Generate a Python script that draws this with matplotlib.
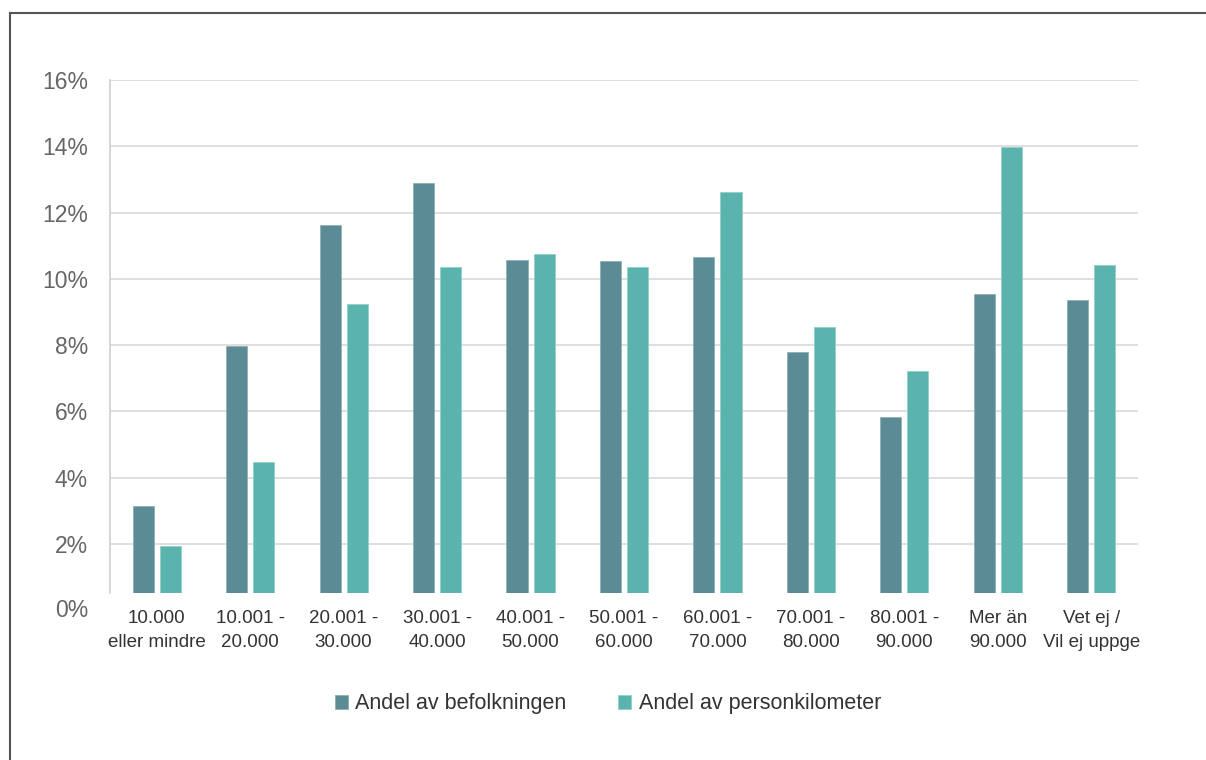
import matplotlib.pyplot as plt
import numpy as np
from matplotlib.lines import Line2D

plt.rcParams['font.family'] = ['Liberation Sans Narrow', 'Liberation Sans', 'DejaVu Sans']

categories = ['10.000\neller mindre', '10.001 -\n20.000', '20.001 -\n30.000', '30.001 -\n40.000',
              '40.001 -\n50.000', '50.001 -\n60.000', '60.001 -\n70.000', '70.001 -\n80.000',
              '80.001 -\n90.000', 'Mer än\n90.000', 'Vet ej /\nVil ej uppge']
befolkning = [3.15, 7.97, 11.62, 12.90, 10.57, 10.54, 10.66, 7.79, 5.82, 9.54, 9.35]
personkm = [1.95, 4.48, 9.25, 10.35, 10.75, 10.36, 12.62, 8.55, 7.21, 13.99, 10.42]
yticks = [0, 2, 4, 6, 8, 10, 12, 14, 16]

dark = '#5b8c96'
light = '#5bb3ad'

fig = plt.figure(figsize=(12.06, 7.6), dpi=100)
ax = fig.add_axes([110 / 1206, 1 - 593 / 760, (1138 - 110) / 1206, (593 - 80) / 760])

x = np.arange(len(categories))
w = 0.225
ax.bar(x - 0.145, befolkning, w, color=dark, edgecolor='#8fb0b7', linewidth=0.6,
       label='Andel av befolkningen', zorder=3)
ax.bar(x + 0.145, personkm, w, color=light, edgecolor='#92cfca', linewidth=0.6,
       label='Andel av personkilometer', zorder=3)

ax.set_xlim(-0.5, len(categories) - 0.5)
ax.set_ylim(0.52, 16)
ax.set_yticks(yticks[1:])
ax.set_yticklabels([f'{t}%' for t in yticks[1:]])
ax.text(-0.0215, 0, '0%', transform=ax.get_yaxis_transform(), ha='right', va='center',
        fontsize=16.5, color='#666666', clip_on=False)
ax.tick_params(axis='y', length=0, pad=16, labelsize=16.5, labelcolor='#666666')
ax.set_xticks(x)
ax.set_xticklabels(categories, fontsize=13.5, color='#333333', linespacing=1.55)
ax.tick_params(axis='x', length=0, pad=12)

ax.grid(axis='y', color='#d9d9d9', linewidth=1.2, zorder=0)
for s in ['top', 'right', 'bottom']:
    ax.spines[s].set_visible(False)
ax.spines['left'].set_color('#d0d0d0')
ax.spines['left'].set_linewidth(1.2)

fig.legend(loc='center', bbox_to_anchor=(608 / 1206, 1 - 704 / 760), ncol=2, frameon=False,
           fontsize=15.5, handlelength=0.6, handleheight=0.6, handletextpad=0.35,
           columnspacing=2.4, labelcolor='#333333')

# outer frame
fig.add_artist(Line2D([10 / 1206, 10 / 1206], [0, 1 - 13 / 760], color='#555555', lw=1.5))
fig.add_artist(Line2D([10 / 1206, 1], [1 - 13 / 760, 1 - 13 / 760], color='#555555', lw=1.5))

fig.savefig('out.png', dpi=100)
